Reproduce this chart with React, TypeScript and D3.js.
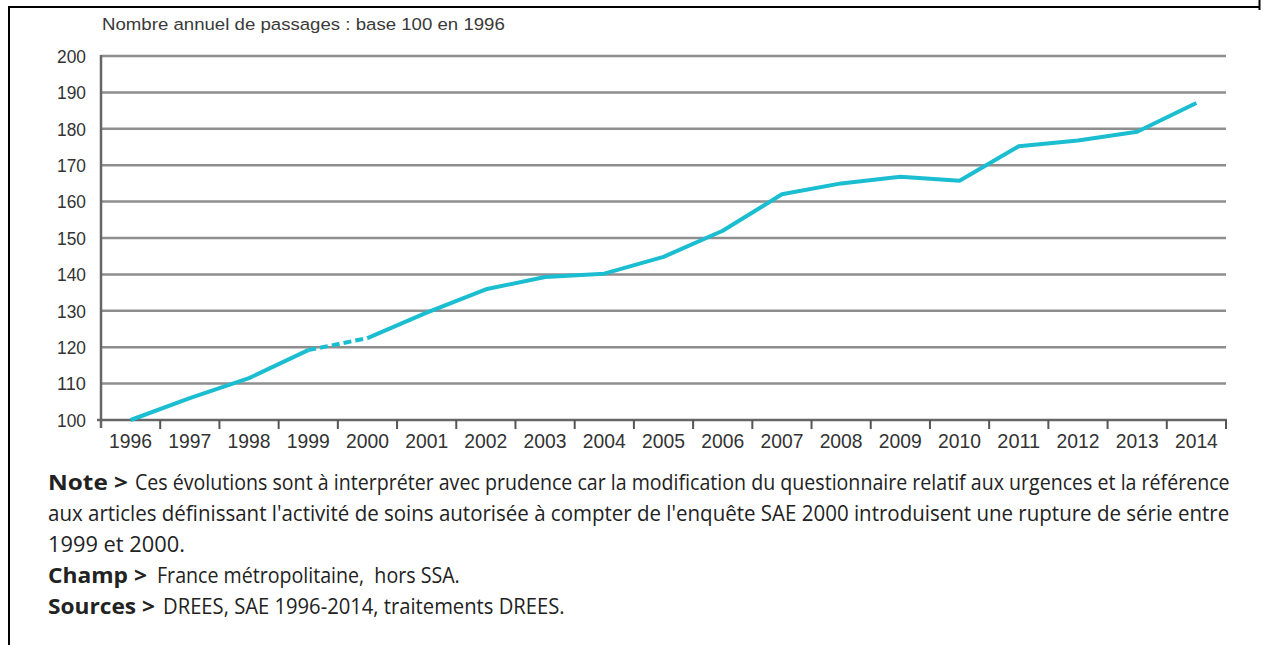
import * as React from "react";
import { useRef, useEffect } from "react";
import * as d3 from "d3";

// Données (base 100 en 1996)
const years = [
  "1996", "1997", "1998", "1999", "2000", "2001", "2002", "2003", "2004", "2005",
  "2006", "2007", "2008", "2009", "2010", "2011", "2012", "2013", "2014",
];
const passages = [
  100, 106, 111.5, 119.2, 122.5, 129.5, 135.9, 139.3, 140.2, 144.8,
  152, 162, 165, 166.8, 165.7, 175.2, 176.8, 179.2, 187.1,
];
// rupture de série entre ces deux années (trait pointillé)
const breakYears = ["1999", "2000"];
const yTicks = [100, 110, 120, 130, 140, 150, 160, 170, 180, 190, 200];

const chartTitle = "Nombre annuel de passages : base 100 en 1996";
const noteLabels = ["Note >", "", "", "Champ >", "Sources >"];
const noteTexts = [
  "Ces évolutions sont à interpréter avec prudence car la modification du questionnaire relatif aux urgences et la référence",
  "aux articles définissant l'activité de soins autorisée à compter de l'enquête SAE 2000 introduisent une rupture de série entre",
  "1999 et 2000.",
  "France métropolitaine,  hors SSA.",
  "DREES, SAE 1996-2014, traitements DREES.",
];

// mise en page des notes : [x début libellé, largeur libellé, x début texte, largeur texte]
const noteLayout = [
  [48, 80, 135, 1095],
  [0, 0, 48, 1182],
  [0, 0, 48, 137],
  [48, 99, 157, 303],
  [48, 107, 163, 402],
];

// resserre un texte horizontalement pour qu'il occupe la largeur voulue
function fitWidth(sel: d3.Selection<SVGTextElement, any, any, any>, x: number, y: number, w: number) {
  const node = sel.node() as SVGTextElement;
  const len = node.getComputedTextLength() || w;
  sel.attr("x", 0).attr("y", 0)
    .attr("transform", `translate(${x},${y}) scale(${w / len},1)`);
}

export default function App() {
  const _ref = useRef<SVGSVGElement | null>(null);

  useEffect(() => {
    const svg = d3.select(_ref.current);
    svg.selectAll("*").remove();

    const W = 1263;
    const H = 645;
    const left = 101;
    const right = 1226;
    const top = 56;
    const bottom = 420;
    const axisFont = "'Liberation Sans', Arial, sans-serif";

    const x = d3.scaleBand<string>().domain(years).range([left, right]).padding(0);
    const y = d3.scaleLinear().domain([100, 200]).range([bottom, top]);
    const cx = (yr: string) => (x(yr) as number) + x.bandwidth() / 2;

    // cadre
    svg.append("line").attr("x1", 9).attr("x2", 9).attr("y1", 6).attr("y2", H)
      .attr("stroke", "#000").attr("stroke-width", 2);
    svg.append("line").attr("x1", 8).attr("x2", 1259).attr("y1", 7).attr("y2", 7)
      .attr("stroke", "#000").attr("stroke-width", 2);
    svg.append("line").attr("x1", 1259.5).attr("x2", 1259.5).attr("y1", 0).attr("y2", 10)
      .attr("stroke", "#000").attr("stroke-width", 2);

    // titre
    const title = svg.append("text")
      .attr("font-family", axisFont)
      .attr("font-size", 17)
      .attr("fill", "#3a3a3a")
      .text(chartTitle);
    fitWidth(title, 102, 30, 403);

    // grille horizontale
    svg.append("g").selectAll("line")
      .data(yTicks.filter((d) => d !== 100))
      .join("line")
      .attr("x1", left).attr("x2", right)
      .attr("y1", (d) => y(d)).attr("y2", (d) => y(d))
      .attr("stroke", "#8e8e8e").attr("stroke-width", 2.5);

    // étiquettes de l'axe vertical
    svg.append("g").selectAll("text")
      .data(yTicks)
      .join("text")
      .attr("dy", "0.36em")
      .attr("font-family", axisFont)
      .attr("font-size", 19)
      .attr("fill", "#333")
      .text((d) => d)
      .each(function (d) {
        fitWidth(d3.select(this as SVGTextElement), 57, y(d), 29);
      });

    // axes
    svg.append("line").attr("x1", left).attr("x2", left).attr("y1", top - 1).attr("y2", bottom + 8)
      .attr("stroke", "#666").attr("stroke-width", 2.5);
    svg.append("line").attr("x1", left - 4).attr("x2", right + 1).attr("y1", bottom).attr("y2", bottom)
      .attr("stroke", "#666").attr("stroke-width", 2.5);
    svg.append("g").selectAll("line")
      .data(years.slice(1).concat(["end"]))
      .join("line")
      .attr("x1", (d) => (d === "end" ? right : (x(d) as number)))
      .attr("x2", (d) => (d === "end" ? right : (x(d) as number)))
      .attr("y1", bottom).attr("y2", bottom + 9)
      .attr("stroke", "#555").attr("stroke-width", 2);

    svg.append("g").selectAll("text")
      .data(years)
      .join("text")
      .attr("font-family", axisFont)
      .attr("font-size", 20)
      .attr("fill", "#333")
      .text((d) => d)
      .each(function (d) {
        fitWidth(d3.select(this as SVGTextElement), cx(d) - 21.5, 448, 43);
      });

    // courbe
    const pts = years.map((yr, i) => ({ yr, v: passages[i] }));
    const i0 = years.indexOf(breakYears[0]);
    const i1 = years.indexOf(breakYears[1]);
    const line = d3.line<{ yr: string; v: number }>()
      .x((d) => cx(d.yr))
      .y((d) => y(d.v));
    const segs = [
      { data: pts.slice(0, i0 + 1), dash: null },
      { data: pts.slice(i0, i1 + 1), dash: "8,4" },
      { data: pts.slice(i1), dash: null },
    ];
    svg.append("g").selectAll("path")
      .data(segs)
      .join("path")
      .attr("d", (d) => line(d.data))
      .attr("fill", "none")
      .attr("stroke", "#1bbdd0")
      .attr("stroke-width", 4)
      .attr("stroke-linejoin", "round")
      .attr("stroke-dasharray", (d) => d.dash);

    // notes
    const baselines = [490, 521, 552, 583, 614];
    const noteFont = "'Open Sans', 'Noto Sans', sans-serif";
    noteTexts.forEach((t, i) => {
      const [lx, lw, tx, tw] = noteLayout[i];
      if (noteLabels[i]) {
        const lab = svg.append("text")
          .attr("font-family", noteFont)
          .attr("font-weight", 700)
          .attr("font-size", 22)
          .attr("fill", "#222")
          .text(noteLabels[i]);
        fitWidth(lab, lx, baselines[i], lw);
      }
      const txt = svg.append("text")
        .attr("font-family", noteFont)
        .attr("font-size", 22)
        .attr("fill", "#222")
        .style("white-space", "pre")
        .text(t);
      fitWidth(txt, tx, baselines[i], tw);
    });

    svg.attr("width", W).attr("height", H);
  }, []);

  return (
    <svg
      ref={_ref}
      width={1263}
      height={645}
      style={{ position: "absolute", left: 0, top: 0, background: "#fff" }}
    />
  );
}
